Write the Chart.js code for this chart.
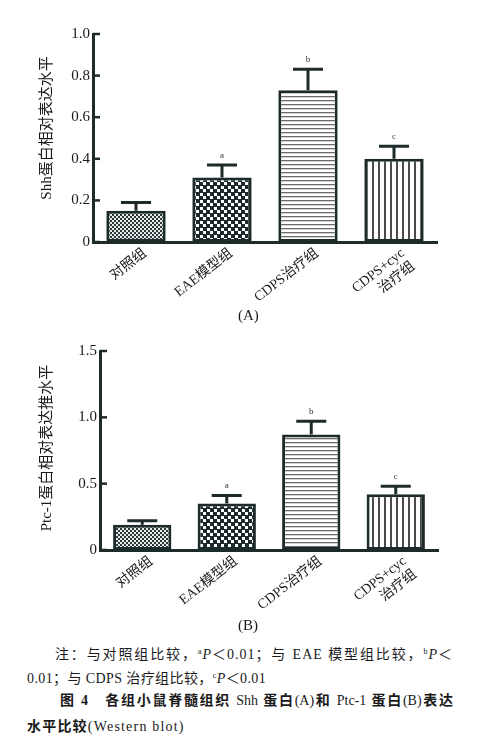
<!DOCTYPE html>
<html>
<head>
<meta charset="utf-8">
<script src="https://cdn.jsdelivr.net/npm/chart.js@4/dist/chart.umd.min.js"></script>
<style>
  body { margin: 0; background: #fff; width: 490px; height: 747px; position: relative; overflow: hidden; }
  .box { position: absolute; left: 0; width: 490px; }
  .cap { position: absolute; font-family: "Liberation Serif", "Noto Sans CJK SC", serif; font-size: 14px; line-height: 18px; color: #1a1a1a; white-space: nowrap; }
  .just { text-align: justify; text-align-last: justify; }
  .panel { position: absolute; font-family: "Liberation Serif", serif; font-size: 15px; color: #1a1a1a; }
  sup { font-size: 8px; vertical-align: 5px; }
  .b { font-weight: 700; }
</style>
</head>
<body>
<div class="box" style="top:0;height:320px"><canvas id="chartA"></canvas></div>
<div class="box" style="top:330px;height:290px"><canvas id="chartB"></canvas></div>
<div class="panel" style="left:238px;top:307px">(A)</div>
<div class="panel" style="left:238px;top:617px">(B)</div>

<div class="cap just" style="left:55px;width:398px;top:643px;letter-spacing:1px">注：与对照组比较，<sup>a</sup><i>P</i>＜0.01；与 EAE 模型组比较，<sup>b</sup><i>P</i>＜</div>
<div class="cap" style="left:27px;top:667px;letter-spacing:0.4px">0.01；与 CDPS 治疗组比较，<sup>c</sup><i>P</i>＜0.01</div>
<div class="cap just" style="left:60px;width:393px;top:692px"><span class="b">图 4　各组小鼠脊髓组织</span> Shh <span class="b">蛋白</span>(A)<span class="b">和</span> Ptc-1 <span class="b">蛋白</span>(B)<span class="b">表达</span></div>
<div class="cap" style="left:27px;top:718px;letter-spacing:1.2px"><span class="b">水平比较</span>(Western blot)</div>

<script>
const categories = ['对照组', 'EAE模型组', 'CDPS治疗组', ['CDPS+cyc', '治疗组']];
const shhMean = [0.15, 0.31, 0.73, 0.40];
const shhSD = [0.04, 0.06, 0.10, 0.06];
const ptcMean = [0.19, 0.35, 0.87, 0.42];
const ptcSD = [0.03, 0.06, 0.10, 0.06];
const sigLetters = ['', 'a', 'b', 'c'];
const shhTicks = [0, 0.2, 0.4, 0.6, 0.8, 1.0];
const ptcTicks = [0, 0.5, 1.0, 1.5];

const dark = '#1d2b2b';
const serif = "'Liberation Serif', 'Noto Sans CJK SC', serif";

function makePattern(kind) {
  const c = document.createElement('canvas');
  const g = c.getContext('2d');
  if (kind === 'fine') {
    c.width = 4; c.height = 4;
    g.fillStyle = '#2a3838'; g.fillRect(0, 0, 4, 4);
    g.fillStyle = '#e8e8e8'; g.fillRect(0, 0, 2, 2); g.fillRect(2, 2, 2, 2);
  } else if (kind === 'coarse') {
    c.width = 7; c.height = 7;
    g.fillStyle = dark; g.fillRect(0, 0, 7, 7);
    g.fillStyle = '#fff'; g.fillRect(0, 0, 3, 3); g.fillRect(4, 4, 3, 3);
  } else if (kind === 'hstripe') {
    c.width = 4; c.height = 4;
    g.fillStyle = '#fff'; g.fillRect(0, 0, 4, 4);
    g.fillStyle = '#6a6a6a'; g.fillRect(0, 0, 4, 1.3);
  } else {
    c.width = 6; c.height = 6;
    g.fillStyle = '#fff'; g.fillRect(0, 0, 6, 6);
    g.fillStyle = '#4a4a4a'; g.fillRect(0, 0, 2, 6);
  }
  return g.createPattern(c, 'repeat');
}

const extras = {
  id: 'extras',
  afterDatasetsDraw(chart, args, opts) {
    const ctx = chart.ctx;
    const y = chart.scales.y;
    const meta = chart.getDatasetMeta(0);
    ctx.save();
    ctx.strokeStyle = dark;
    ctx.lineWidth = 3;
    meta.data.forEach((bar, i) => {
      const top = y.getPixelForValue(opts.means[i] + opts.sds[i]);
      ctx.beginPath();
      ctx.moveTo(bar.x, bar.y);
      ctx.lineTo(bar.x, top);
      ctx.moveTo(bar.x - 15, top);
      ctx.lineTo(bar.x + 15, top);
      ctx.stroke();
      if (opts.letters[i]) {
        ctx.fillStyle = '#333';
        ctx.font = "9px 'Liberation Serif', serif";
        ctx.textAlign = 'center';
        ctx.textBaseline = 'bottom';
        ctx.fillText(opts.letters[i], bar.x, top - 5);
      }
    });
    // inward tick marks
    ctx.lineWidth = 2.5;
    y.ticks.forEach(t => {
      const py = y.getPixelForValue(t.value);
      ctx.beginPath();
      ctx.moveTo(chart.chartArea.left, py);
      ctx.lineTo(chart.chartArea.left + 7, py);
      ctx.stroke();
    });
    // y title
    ctx.fillStyle = '#1a1a1a';
    ctx.font = '15px ' + serif;
    ctx.textAlign = 'center';
    ctx.textBaseline = 'middle';
    ctx.translate(opts.titleX, opts.titleY);
    ctx.rotate(-Math.PI / 2);
    ctx.fillText(opts.title, 0, 0);
    ctx.restore();
  }
};

function buildChart(id, means, sds, tickVals, title, cfg) {
  const ctx = document.getElementById(id);
  return new Chart(ctx, {
    type: 'bar',
    data: {
      labels: categories,
      datasets: [{
        data: means,
        backgroundColor: [makePattern('fine'), makePattern('coarse'), makePattern('hstripe'), makePattern('vstripe')],
        borderColor: dark,
        borderWidth: 3,
        borderSkipped: false,
        categoryPercentage: 1,
        barPercentage: 0.69
      }]
    },
    options: {
      responsive: true,
      maintainAspectRatio: false,
      animation: false,
      events: [],
      layout: { autoPadding: false, padding: { left: cfg.padLeft, right: cfg.padRight, top: cfg.padTop, bottom: 0 } },
      plugins: {
        legend: { display: false },
        tooltip: { enabled: false },
        extras: { means: means, sds: sds, letters: sigLetters, title: title, titleX: cfg.titleX, titleY: cfg.titleY }
      },
      scales: {
        x: {
          grid: { display: false, drawTicks: false, tickLength: 0 },
          border: { color: dark, width: 3 },
          afterFit(s) { s.height = cfg.xHeight; },
          ticks: {
            color: '#1a1a1a',
            font: { family: serif, size: 14 },
            minRotation: 38,
            maxRotation: 38,
            labelOffset: 9,
            padding: 3
          }
        },
        y: {
          min: 0,
          max: tickVals[tickVals.length - 1],
          grid: { display: false, drawTicks: false, tickLength: 0 },
          border: { color: dark, width: 3 },
          afterFit(s) { s.width = 50; },
          afterBuildTicks(s) { s.ticks = tickVals.map(v => ({ value: v })); },
          ticks: {
            color: '#1a1a1a',
            font: { family: serif, size: 15 },
            padding: 3,
            callback: v => (v === 0 ? '0' : v.toFixed(1))
          }
        }
      }
    },
    plugins: [extras]
  });
}

buildChart('chartA', shhMean, shhSD, shhTicks, 'Shh蛋白相对表达水平',
  { padLeft: 43, padRight: 53, padTop: 34, xHeight: 78, titleX: 47, titleY: 128 });
buildChart('chartB', ptcMean, ptcSD, ptcTicks, 'Ptc-1蛋白相对表达推水平',
  { padLeft: 50, padRight: 52, padTop: 21, xHeight: 70, titleX: 47, titleY: 118 });
</script>
</body>
</html>
